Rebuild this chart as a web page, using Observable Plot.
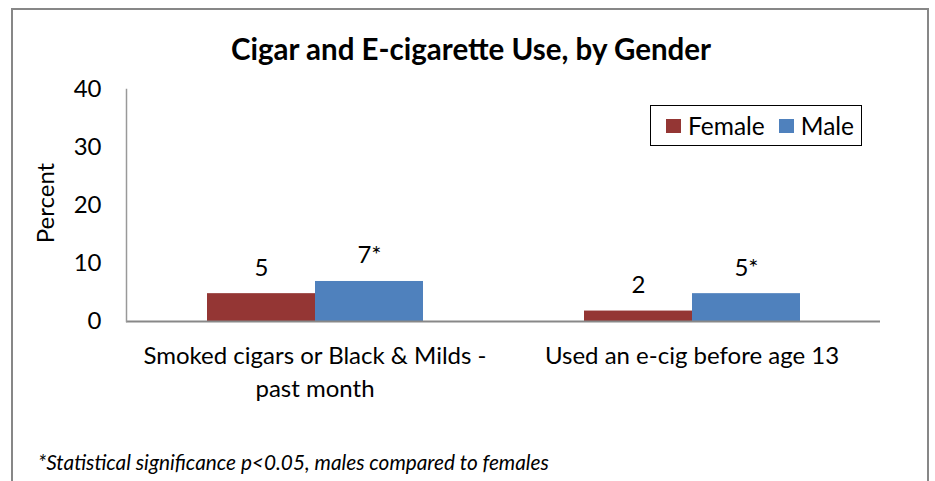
<!DOCTYPE html>
<html>
<head>
<meta charset="utf-8">
<script src="https://cdn.jsdelivr.net/npm/d3@7"></script>
<script src="https://cdn.jsdelivr.net/npm/@observablehq/plot@0.6"></script>
<style>
  html, body { margin: 0; padding: 0; background: #fff; width: 935px; height: 481px; overflow: hidden; }
  body { position: relative; font-family: Lato, "Open Sans", sans-serif; color: #000; }
  #frame { position: absolute; left: 11px; top: 8px; width: 914px; height: 520px; border: 2px solid #878787; }
  #title { position: absolute; left: 0; width: 942px; top: 31px; text-align: center; font-weight: bold; font-size: 29.5px; line-height: 36px; }
  #chart { position: absolute; left: 0; top: 0; }
  #ylabel { position: absolute; left: 45px; top: 203px; transform: translate(-50%, -50%) rotate(-90deg); font-size: 24px; line-height: 28px; white-space: nowrap; }
  #legend { position: absolute; left: 650px; top: 105px; width: 210px; height: 39px; border: 1px solid #000; display: flex; align-items: center; font-size: 24.5px; }
  #legend .sw { display: inline-block; width: 15px; height: 14px; margin-right: 7px; }
  #legend .item { display: flex; align-items: center; }
  #foot { position: absolute; left: 38px; top: 449px; font-style: italic; font-size: 20.8px; line-height: 26px; }
</style>
</head>
<body>
<div id="frame"></div>
<div id="chart"></div>
<div id="title">Cigar and E-cigarette Use, by Gender</div>
<div id="ylabel">Percent</div>
<div id="legend"></div>
<div id="foot">*Statistical significance p&lt;0.05, males compared to females</div>
<script>
const categories = ["Smoked cigars or Black & Milds -\npast month", "Used an e-cig before age 13"];
const genders = ["Female", "Male"];
const femaleValues = [4.8, 1.8];
const maleValues = [6.9, 4.8];
const femaleLabels = ["5", "2"];
const maleLabels = ["7*", "5*"];
const colors = ["#943634", "#4F81BD"];
const yTicks = [0, 10, 20, 30, 40];

const data = [];
categories.forEach((c, i) => {
  data.push({category: c, gender: "Female", value: femaleValues[i], label: femaleLabels[i]});
  data.push({category: c, gender: "Male", value: maleValues[i], label: maleLabels[i]});
});

const chart = Plot.plot({
  width: 935,
  height: 410,
  marginLeft: 126,
  marginRight: 55,
  marginTop: 89,
  marginBottom: 89,
  style: {fontFamily: "Lato, 'Open Sans', sans-serif", fontSize: "24px", color: "#000", background: "transparent", overflow: "visible"},
  fx: {domain: categories, padding: 0, label: null},
  x: {domain: genders, paddingInner: 0, paddingOuter: 0.745, axis: null},
  y: {domain: [0, 40], label: null},
  color: {domain: genders, range: colors},
  marks: [
    Plot.barY(data, {fx: "category", x: "gender", y: "value", fill: "gender"}),
    Plot.text(data, {fx: "category", x: "gender", y: "value", text: "label", dy: -18, lineAnchor: "bottom", fontSize: 24, fill: "#000"}),
    Plot.ruleY([0], {stroke: "#888", strokeWidth: 2}),
    Plot.frame({anchor: "left", facetAnchor: "left", stroke: "#999", strokeWidth: 1.5}),
    Plot.axisY({ticks: yTicks, tickSize: 0, tickPadding: 25, fontSize: 24, label: null}),
    Plot.axisFx({anchor: "bottom", tickSize: 0, tickPadding: 19, fontSize: 24, lineHeight: 1.38, label: null})
  ]
});
document.getElementById("chart").appendChild(chart);

const legend = document.getElementById("legend");
genders.forEach((g, i) => {
  const item = document.createElement("span");
  item.className = "item";
  item.style.marginLeft = i === 0 ? "15px" : "14px";
  const sw = document.createElement("span");
  sw.className = "sw";
  sw.style.background = colors[i];
  item.appendChild(sw);
  item.appendChild(document.createTextNode(g));
  legend.appendChild(item);
});
</script>
</body>
</html>
